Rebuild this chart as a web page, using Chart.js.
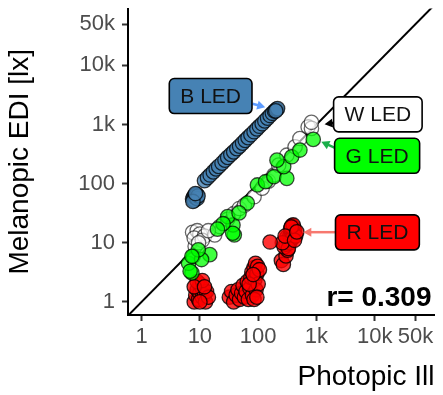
<!DOCTYPE html>
<html><head><meta charset="utf-8">
<script src="https://cdn.jsdelivr.net/npm/chart.js@4/dist/chart.umd.min.js"></script>
<style>html,body{margin:0;padding:0;background:#fff;}#wrap{width:443px;height:395px;position:relative;}canvas{display:block;}</style>
</head><body><div id="wrap"><canvas id="c" width="443" height="395"></canvas></div>
<script>
// ---- axes ----
const xTicks = [1, 10, 100, 1000, 10000, 50000];
const xTickLabels = ['1', '10', '100', '1k', '10k', '50k'];
const yTicks = [1, 10, 100, 1000, 10000, 50000];
const yTickLabels = ['1', '10', '100', '1k', '10k', '50k'];
const xRange = [0.585, 105800];
const yRange = [0.6, 91800];
const identityLine = [0.4, 150000];

// ---- series (Photopic illuminance x, Melanopic EDI y) ----
const blueX = [7.5, 7.8, 8, 8.2, 8.5, 8.8, 9, 9.3, 7.6, 8.4, 12, 13.5, 15, 17, 19, 21, 24, 27, 30, 34, 38, 43, 48, 54, 60, 67, 75, 85, 95, 105, 117, 130, 145, 160, 175, 190, 205, 215, 200];
const blueY = [55, 60, 52, 63, 58, 66, 56, 62, 50, 68, 112, 126, 140, 158, 178, 196, 222, 250, 278, 312, 345, 390, 432, 485, 540, 600, 670, 755, 845, 935, 1030, 1150, 1280, 1420, 1550, 1690, 1800, 1860, 1700];

const whiteX = [8.3, 7.5, 9, 10, 8, 12, 11, 18, 22, 30, 38, 47.5, 58, 85, 117, 150, 186, 225, 310, 430, 520, 720, 820, 820, 9.5, 14];
const whiteY = [8.7, 15, 16, 14, 12, 13, 11, 13.6, 18.8, 25, 31, 38, 43, 60, 84, 110, 140, 206, 303, 420, 580, 910, 860, 1090, 10, 16];

const greenX = [7.3, 6.4, 7.7, 14.8, 10.7, 9.4, 39, 37, 30, 97, 134, 186, 310, 274, 376, 520, 880, 210, 65, 47, 6.8, 36.6, 7.3, 25, 20];
const greenY = [3.1, 4.5, 5.9, 6.3, 5.2, 7.6, 13.6, 20, 27.7, 95, 108, 131, 123, 194, 285, 370, 560, 250, 47, 32, 3.3, 14.5, 5.9, 21, 17];

const redX = [8, 8.5, 9, 9.5, 10, 10, 11, 11, 12, 12.5, 13, 14, 9, 11, 8, 10, 12,
  32, 35, 38, 42, 45, 48, 52, 55, 58, 62, 65, 68, 72, 75, 78, 80, 85, 88, 90, 92, 95, 98, 100, 85, 105, 95, 70, 82,
  250, 270, 300, 320, 280, 300, 330, 310, 350, 370, 390, 410, 380, 360, 400, 420, 350, 390, 330, 260, 440, 400, 370, 160, 290, 420, 460];
const redY = [1.0, 1.3, 1.6, 1.1, 1.4, 2.0, 1.2, 1.7, 1.3, 1.0, 1.5, 1.2, 2.2, 2.3, 1.8, 1.0, 1.8,
  1.2, 1.5, 1.0, 1.3, 1.6, 1.1, 1.4, 1.9, 1.2, 1.5, 2.2, 1.1, 1.7, 2.6, 3.2, 1.3, 3.8, 2.4, 4.5, 1.6, 3.0, 4.0, 2.0, 1.1, 3.5, 1.2, 2.0, 2.9,
  5.0, 4.3, 6.0, 7.5, 8.5, 9.5, 11, 12.5, 13, 15, 16.5, 18, 19.5, 17.5, 14, 16, 10, 12, 8, 10, 13, 20, 18.5, 10.3, 13, 11, 15.3];

// ---- annotations ----
const ledLabels = ['B LED', 'W LED', 'G LED', 'R LED'];
const labelAtX = [15.3, 11300, 10970, 11100];
const labelAtY = [3035, 1486, 296, 15];
const arrowFromX = [79.8, 2030, 2170, 2170];
const arrowFromY = [2250, 1068, 395, 15.1];
const arrowToX = [132, 1378, 1212, 595];
const arrowToY = [1965, 1016, 511, 15.1];
const corrText = 'r= 0.309';

const labelFill = ['#4682B4', '#FFFFFF', '#00FF00', '#FF0000'];
const arrowColor = ['#5e9cff', '#000000', '#1aae4a', '#f7786f'];

const pts = (xs, ys) => xs.map((x, i) => ({x: x, y: ys[i]}));
const FONT = '"Liberation Sans", Arial, Helvetica, sans-serif';

function pointSet(label, xs, ys, fill, border) {
  return {label: label, data: pts(xs, ys), backgroundColor: fill, borderColor: border,
    borderWidth: 1.3, pointRadius: 7.2, pointHoverRadius: 7.2};
}

const annotPlugin = {
  id: 'annot',
  afterDatasetsDraw(chart) {
    const ctx = chart.ctx, xs = chart.scales.x, ys = chart.scales.y;
    ctx.save();
    for (let i = 0; i < ledLabels.length; i++) {
      const x0 = xs.getPixelForValue(arrowFromX[i]), y0 = ys.getPixelForValue(arrowFromY[i]);
      const x1 = xs.getPixelForValue(arrowToX[i]), y1 = ys.getPixelForValue(arrowToY[i]);
      const ang = Math.atan2(y1 - y0, x1 - x0);
      const hl = 8, hw = 4.5;
      ctx.strokeStyle = arrowColor[i]; ctx.fillStyle = arrowColor[i];
      ctx.lineWidth = 2.5;
      ctx.beginPath(); ctx.moveTo(x0, y0);
      ctx.lineTo(x1 - Math.cos(ang) * hl * 0.8, y1 - Math.sin(ang) * hl * 0.8); ctx.stroke();
      ctx.beginPath(); ctx.moveTo(x1, y1);
      ctx.lineTo(x1 - Math.cos(ang) * hl - Math.sin(ang) * hw, y1 - Math.sin(ang) * hl + Math.cos(ang) * hw);
      ctx.lineTo(x1 - Math.cos(ang) * hl + Math.sin(ang) * hw, y1 - Math.sin(ang) * hl - Math.cos(ang) * hw);
      ctx.closePath(); ctx.fill();
      const cx = xs.getPixelForValue(labelAtX[i]), cy = ys.getPixelForValue(labelAtY[i]);
      ctx.font = '21px ' + FONT;
      const tw = ctx.measureText(ledLabels[i]).width;
      const w = tw + 22, h = 35;
      ctx.beginPath();
      ctx.roundRect(cx - w / 2, cy - h / 2, w, h, 5);
      ctx.fillStyle = labelFill[i]; ctx.fill();
      ctx.lineWidth = 1.6; ctx.strokeStyle = '#000'; ctx.stroke();
      ctx.fillStyle = '#111'; ctx.textAlign = 'center'; ctx.textBaseline = 'middle';
      ctx.fillText(ledLabels[i], cx, cy + 1);
    }
    const a = chart.chartArea;
    ctx.font = 'bold 28px ' + FONT;
    ctx.fillStyle = '#000'; ctx.textAlign = 'right'; ctx.textBaseline = 'alphabetic';
    ctx.fillText(corrText, a.right - 3, a.bottom - 9);
    ctx.restore();
  }
};

new Chart(document.getElementById('c'), {
  type: 'scatter',
  data: {
    datasets: [
      pointSet('G LED', greenX, greenY, 'rgba(0,255,0,0.75)', 'rgba(0,0,0,0.7)'),
      pointSet('W LED', whiteX, whiteY, 'rgba(255,255,255,0.6)', 'rgba(0,0,0,0.6)'),
      pointSet('R LED', redX, redY, 'rgba(255,0,0,0.8)', 'rgba(0,0,0,0.8)'),
      pointSet('B LED', blueX, blueY, 'rgba(70,130,180,0.8)', 'rgba(0,0,0,0.75)'),
      {label: 'identity', type: 'line', data: pts(identityLine, identityLine), borderColor: '#000',
        borderWidth: 2, pointRadius: 0, fill: false}
    ]
  },
  options: {
    responsive: false, animation: false, devicePixelRatio: 1,
    layout: {padding: {left: 0, top: 8, right: 3, bottom: 0}},
    plugins: {legend: {display: false}, tooltip: {enabled: false}},
    scales: {
      x: {
        type: 'logarithmic', min: xRange[0], max: xRange[1],
        afterBuildTicks: s => { s.ticks = xTicks.map(v => ({value: v})); },
        afterFit: s => { s.height = 80; s.paddingLeft = 0; s.paddingRight = 0; s.paddingTop = 0; s.paddingBottom = 0; },
        ticks: {callback: v => xTickLabels[xTicks.indexOf(v)], autoSkip: false, maxRotation: 0,
          color: '#4D4D4D', font: {family: FONT, size: 22}, padding: 3},
        grid: {drawOnChartArea: false, drawTicks: true, tickLength: 6, tickColor: '#333', tickWidth: 2},
        border: {display: true, color: '#000', width: 2},
        title: {display: true, text: 'Photopic Ill', align: 'end', color: '#000',
          font: {family: FONT, size: 28}, padding: {top: 0, bottom: 1}}
      },
      y: {
        type: 'logarithmic', min: yRange[0], max: yRange[1],
        afterBuildTicks: s => { s.ticks = yTicks.map(v => ({value: v})); },
        afterFit: s => { s.width = 128; s.paddingLeft = 0; s.paddingRight = 0; s.paddingTop = 0; s.paddingBottom = 0; },
        ticks: {callback: v => yTickLabels[yTicks.indexOf(v)], autoSkip: false,
          color: '#4D4D4D', font: {family: FONT, size: 22}, padding: 7},
        grid: {drawOnChartArea: false, drawTicks: true, tickLength: 6, tickColor: '#333', tickWidth: 2},
        border: {display: true, color: '#000', width: 2},
        title: {display: true, text: 'Melanopic EDI [lx]', color: '#000',
          font: {family: FONT, size: 28}, padding: {top: 3, bottom: 0}}
      }
    }
  },
  plugins: [annotPlugin]
});
</script></body></html>
